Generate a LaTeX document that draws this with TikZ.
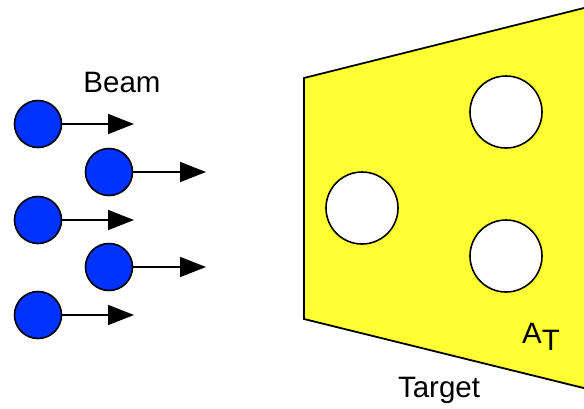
\documentclass[tikz,border=0pt]{standalone}
\usepackage{fontspec}
\setmainfont{Liberation Sans}
\usetikzlibrary{arrows.meta,positioning}
\definecolor{beamblue}{RGB}{0,51,255}
\definecolor{targetyellow}{RGB}{255,255,51}

\begin{document}
\begin{tikzpicture}[
    x=1pt, y=-1pt,
    particle/.style={circle, draw, line width=1.6pt, fill=beamblue,
                     minimum size=47pt, inner sep=0pt},
    nucleus/.style={circle, draw, line width=1.6pt, fill=white,
                    minimum size=72pt, inner sep=0pt},
    arrow/.style={-{Triangle[length=26pt,width=20pt]}, line width=1.5pt},
    label/.style={font=\fontsize{29.5}{32}\selectfont, inner sep=0pt}
]
\useasboundingbox (0,0) rectangle (584,408);
\clip (0,0) rectangle (584,408);

% Target
\draw[fill=targetyellow, line width=1.8pt]
    (610,1.5) -- (304,78) -- (304,319) -- (610,394.5);
\node[nucleus] (n1) at (506,112) {};
\node[nucleus] (n2) at (362,208) {};
\node[nucleus] (n3) at (506,256) {};
\node[label, anchor=base west] (at) at (522,343) {A\raisebox{-7pt}{T}};
\node[label, anchor=base] (target) at (439,397) {Target};

% Beam
\node[label, anchor=base] (beam) at (122,92) {Beam};
\node[particle] (p1) at (38,124) {};
\node[particle] (p2) at (109,172) {};
\node[particle] (p3) at (38,220) {};
\node[particle] (p4) at (109,267) {};
\node[particle] (p5) at (38,315) {};
\coordinate (t1) at (134,124);
\coordinate (t2) at (206,172);
\coordinate (t3) at (134,220);
\coordinate (t4) at (206,267);
\coordinate (t5) at (134,315);
\foreach \i in {1,...,5}
    \draw[arrow] (p\i) -- (t\i);

\end{tikzpicture}
\end{document}
